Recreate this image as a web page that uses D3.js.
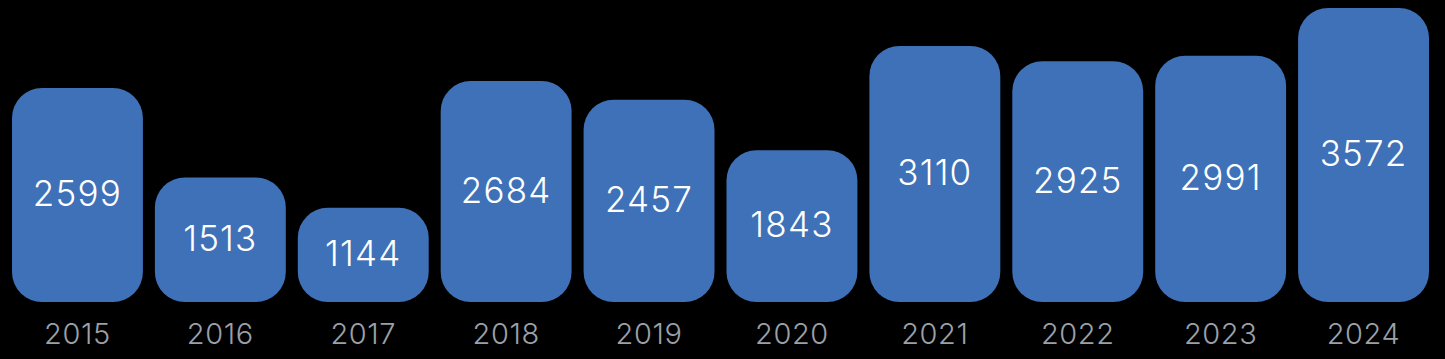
<!DOCTYPE html>
<html>
<head>
<meta charset="utf-8">
<script src="https://cdn.jsdelivr.net/npm/d3@7"></script>
<style>
  html, body { margin: 0; padding: 0; background: #000; }
  svg { display: block; }
</style>
</head>
<body>
<svg id="chart" width="1445" height="359"></svg>
<script>
// Yearly totals
const years = ["2015", "2016", "2017", "2018", "2019", "2020", "2021", "2022", "2023", "2024"];
const values = [2599, 1513, 1144, 2684, 2457, 1843, 3110, 2925, 2991, 3572];

const W = 1445, H = 359;
const baseY = 302, topY = 8;

const svg = d3.select("#chart");
svg.append("rect").attr("width", W).attr("height", H).attr("fill", "#000");

const x = d3.scaleBand()
  .domain(years)
  .range([6, 1435])
  .paddingInner(12 / 143)
  .paddingOuter(6 / 143);

const y = d3.scaleLinear()
  .domain([0, d3.max(values)])
  .range([baseY, topY]);

const data = years.map((yr, i) => ({ year: yr, value: values[i] }));

const g = svg.append("g");

g.selectAll("rect.bar")
  .data(data)
  .join("rect")
  .attr("class", "bar")
  .attr("x", d => x(d.year))
  .attr("y", d => y(d.value))
  .attr("width", x.bandwidth())
  .attr("height", d => baseY - y(d.value))
  .attr("rx", 30)
  .attr("ry", 30)
  .attr("fill", "#3e71b8");

g.selectAll("text.value")
  .data(data)
  .join("text")
  .attr("class", "value")
  .attr("x", d => x(d.year) + x.bandwidth() / 2)
  .attr("y", d => (y(d.value) + baseY) / 2 - 2)
  .attr("text-anchor", "middle")
  .attr("dominant-baseline", "central")
  .attr("font-family", "Inter, 'Noto Sans', sans-serif")
  .attr("font-weight", 300)
  .attr("font-size", 35)
  .attr("letter-spacing", 1.2)
  .attr("fill", "#fff")
  .text(d => d.value);

// Year axis below the bars
const axis = d3.axisBottom(x).tickSize(0).tickPadding(0);
const ax = svg.append("g")
  .attr("transform", `translate(0, ${baseY})`)
  .call(axis);
ax.select(".domain").remove();
ax.selectAll("text")
  .attr("y", 42)
  .attr("dy", null)
  .attr("font-family", "Inter, 'Noto Sans', sans-serif")
  .attr("font-weight", 300)
  .attr("font-size", 29)
  .attr("letter-spacing", 0.6)
  .attr("fill", "#9ba1a8");
</script>
</body>
</html>
